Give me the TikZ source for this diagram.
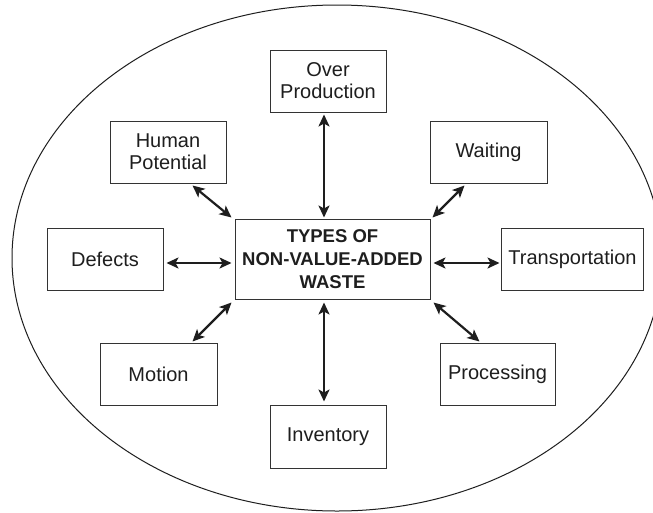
\documentclass[tikz,border=0pt]{standalone}
\usepackage{fontspec}
\setmainfont{Liberation Sans}
\usetikzlibrary{arrows.meta,calc}
\definecolor{ink}{HTML}{1E1E1E}
\definecolor{edge}{HTML}{333333}
\begin{document}
\begin{tikzpicture}[x=1pt,y=-1pt,
  wbox/.style={draw=edge,line width=1pt,text=ink,align=center,inner sep=0pt,
    font=\fontsize{20}{22}\selectfont},
  mainbox/.style={wbox,font=\fontsize{18.5}{23}\selectfont\bfseries},
  link/.style={line width=2.2pt,draw=ink,{Stealth[length=12pt,width=11pt,inset=3pt]}-{Stealth[length=12pt,width=11pt,inset=3pt]}}]
\clip (0,0) rectangle (653,512);
\fill[white] (0,0) rectangle (653,512);
\draw[ink,line width=1pt] (337,258) ellipse [x radius=325, y radius=253];

\node[mainbox,minimum width=195pt,minimum height=80pt] (c) at (332.5,259) {TYPES OF\\NON-VALUE-ADDED\\WASTE};
\node[wbox,minimum width=116pt,minimum height=62pt] (over) at (328,81) {Over\\Production};
\node[wbox,minimum width=116pt,minimum height=62pt] (human) at (168,152) {Human\\Potential};
\node[wbox,minimum width=117pt,minimum height=62pt] (wait) at (488.5,152) {Waiting};
\node[wbox,minimum width=116pt,minimum height=62pt] (def) at (105,259) {Defects};
\node[wbox,minimum width=142pt,minimum height=62pt] (trans) at (572.5,259) {Transportation};
\node[wbox,minimum width=117pt,minimum height=62pt] (mot) at (158.5,374) {Motion};
\node[wbox,minimum width=115pt,minimum height=62pt] (proc) at (497.5,374) {Processing};
\node[wbox,minimum width=116pt,minimum height=63pt] (inv) at (328,436.5) {Inventory};

\draw[link] ($(over.south)+(-4,2)$) -- ($(c.north)+(-8.5,-1)$);
\draw[link] ($(human.south east)+(-34,2)$) -- ($(c.north west)+(-3,-1)$);
\draw[link] ($(wait.south west)+(35,2)$) -- ($(c.north east)+(2,-1)$);
\draw[link] ($(def.east)+(3,4)$) -- ($(c.west)+(-3,4)$);
\draw[link] ($(c.east)+(3,4)$) -- ($(trans.west)+(-1.5,4)$);
\draw[link] ($(c.south west)+(-3,3)$) -- ($(mot.north east)+(-25,-1)$);
\draw[link] ($(c.south)+(-8.5,3)$) -- ($(inv.north)+(-4,-3)$);
\draw[link] ($(c.south east)+(3,3)$) -- ($(proc.north west)+(40,-1)$);
\end{tikzpicture}
\end{document}
